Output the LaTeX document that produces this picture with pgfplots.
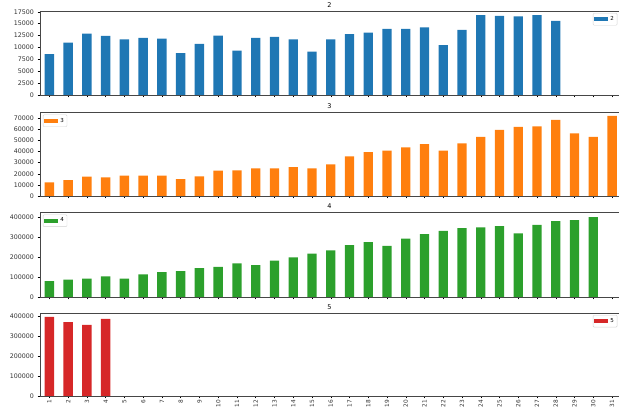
\documentclass[border=0pt]{standalone}
\usepackage{pgfplots}
\pgfplotsset{compat=1.18}
\usepackage{fontspec}
\setmainfont{DejaVu Sans}
\definecolor{cA}{HTML}{1F77B4}
\definecolor{cB}{HTML}{FF7F0E}
\definecolor{cC}{HTML}{2CA02C}
\definecolor{cD}{HTML}{D62728}
\pgfplotsset{
  base/.style={
    scale only axis, width=579pt, xmin=0.5, xmax=31.37, ymin=0,
    xtick={1,...,31},
    ybar, bar width=0.5,
    axis x line=box, axis y line=left,
    axis line style={-, gray!55!black, line width=0.6pt},
    xtick pos=lower, ytick pos=left,
    tick align=outside, major tick length=2.5pt,
    tick style={black, line width=0.4pt},
    ticklabel style={font=\fontsize{6.3}{7}\selectfont, text=black!80},
    /pgf/number format/assume math mode=true,
    scaled y ticks=false,
    y tick label style={/pgf/number format/fixed, /pgf/number format/precision=0, /pgf/number format/1000 sep={}},
    title style={font=\fontsize{6.5}{7}\selectfont, yshift=-6pt},
    legend style={font=\fontsize{5.5}{6}\selectfont, draw=gray!35, rounded corners=1pt, inner sep=1.2pt},
    legend image code/.code={\fill[##1, sharp corners] (0pt,-1.8pt) rectangle (14pt,1.8pt);},
  }
}
\begin{document}
\begin{tikzpicture}
\path[use as bounding box] (0,0) rectangle (619pt,410pt);
% Axis 1
\begin{axis}[base, at={(40pt,315pt)}, anchor=south west, height=84pt,
  ymax=17650, ytick={0,2500,...,17500}, xticklabels={}, title={2},
  legend style={at={(0.997,0.975)}, anchor=north east}]
\addplot[fill=cA, draw=none] coordinates {
(1,8600) (2,11000) (3,12900) (4,12400) (5,11700) (6,12000) (7,11850) (8,8800)
(9,10750) (10,12500) (11,9300) (12,12000) (13,12200) (14,11700) (15,9100)
(16,11700) (17,12800) (18,13100) (19,13900) (20,13900) (21,14200) (22,10500)
(23,13700) (24,16800) (25,16600) (26,16500) (27,16800) (28,15600)};
\addlegendentry{2}
\end{axis}
% Axis 2
\begin{axis}[base, at={(40pt,214pt)}, anchor=south west, height=84pt,
  ymax=75670, ytick={0,10000,...,70000}, xticklabels={}, title={3},
  legend style={at={(0.005,0.97)}, anchor=north west}]
\addplot[fill=cB, draw=none] coordinates {
(1,12300) (2,14400) (3,17400) (4,16800) (5,18300) (6,18300) (7,18300) (8,15300)
(9,17700) (10,22800) (11,23100) (12,24900) (13,24900) (14,26100) (15,24900)
(16,28500) (17,35700) (18,39600) (19,40800) (20,43800) (21,46800) (22,40800)
(23,47400) (24,53150) (25,59460) (26,62160) (27,62760) (28,68470) (29,56460)
(30,53150) (31,72070)};
\addlegendentry{3}
\end{axis}
% Axis 3
\begin{axis}[base, at={(40pt,113pt)}, anchor=south west, height=85pt,
  ymax=427000, ytick={0,100000,...,400000}, xticklabels={}, title={4},
  legend style={at={(0.005,0.97)}, anchor=north west}]
\addplot[fill=cC, draw=none] coordinates {
(1,79300) (2,87800) (3,92800) (4,103000) (5,92800) (6,113100) (7,124900) (8,130000)
(9,145200) (10,151900) (11,168800) (12,160400) (13,182300) (14,199200) (15,217800)
(16,234600) (17,260000) (18,275100) (19,256600) (20,293700) (21,315700) (22,332500)
(23,346000) (24,349400) (25,356200) (26,319000) (27,362900) (28,381500) (29,386600)
(30,401700)};
\addlegendentry{4}
\end{axis}
% Axis 4
\begin{axis}[base, at={(40pt,14pt)}, anchor=south west, height=83pt,
  ymax=415200, ytick={0,100000,...,400000}, title={5},
  xticklabels={1,2,3,4,5,6,7,8,9,10,11,12,13,14,15,16,17,18,19,20,21,22,23,24,25,26,27,28,29,30,31},
  x tick label style={rotate=90, anchor=east, inner sep=1pt, font=\fontsize{5.8}{6}\selectfont},
  legend style={at={(0.997,0.975)}, anchor=north east}]
\addplot[fill=cD, draw=none] coordinates {
(1,395400) (2,369300) (3,356200) (4,385600)};
\addlegendentry{5}
\end{axis}
\end{tikzpicture}
\end{document}
